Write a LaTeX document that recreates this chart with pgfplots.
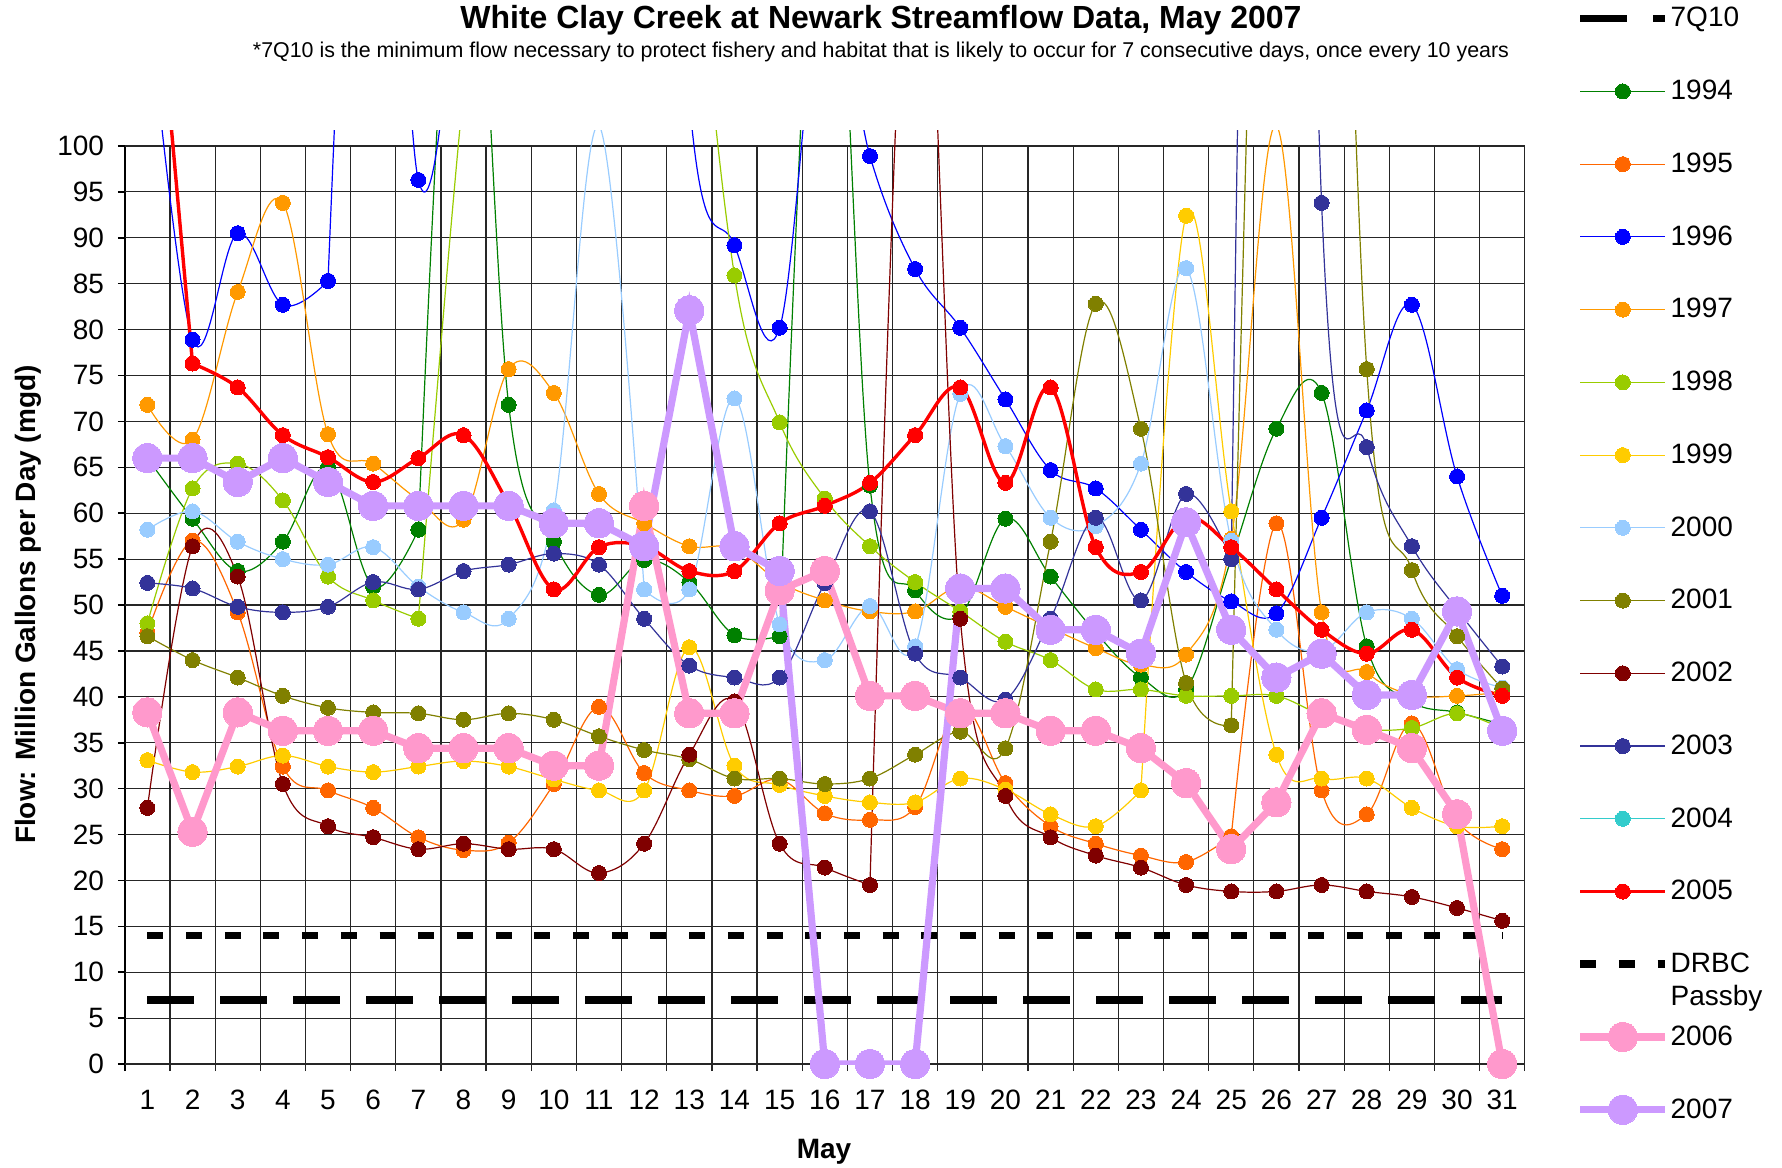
\documentclass[border=0pt]{standalone}
\usepackage{fontspec}
\setmainfont{Liberation Sans}
\usepackage{pgfplots}
\usepackage{pgfplotstable}
\pgfplotsset{compat=1.18}

\definecolor{c1994}{HTML}{008000}
\definecolor{c1995}{HTML}{FF6600}
\definecolor{c1996}{HTML}{0000FF}
\definecolor{c1997}{HTML}{FF9900}
\definecolor{c1998}{HTML}{99CC00}
\definecolor{c1999}{HTML}{FFCC00}
\definecolor{c2000}{HTML}{99CCFF}
\definecolor{c2001}{HTML}{808000}
\definecolor{c2002}{HTML}{800000}
\definecolor{c2003}{HTML}{333399}
\definecolor{c2004}{HTML}{33CCCC}
\definecolor{c2005}{HTML}{FF0000}
\definecolor{c2006}{HTML}{FF99CC}
\definecolor{c2007}{HTML}{CC99FF}

\pgfplotstableread{
d  a94   a95  a96  a97   a98  a99  a00   a01  a02  a03  a05  a06  a07
1  66    47   117  71.8  48   33.1 58.2  46.6 27.9 52.4 131  38.3 66.0
2  59.4  57   78.9 68.0  62.7 31.8 60.2  44.0 56.4 51.8 76.3 25.3 66.0
3  53.7  49.2 90.5 84.1  65.4 32.4 56.9  42.1 53.1 49.8 73.7 38.3 63.4
4  56.9  32.4 82.7 93.8  61.4 33.6 55.0  40.1 30.5 49.2 68.5 36.3 66.0
5  65    29.8 85.3 68.6  53.1 32.4 54.4  38.8 25.9 49.8 66.1 36.3 63.4
6  52.0  27.9 170  65.4  50.5 31.8 56.3  38.3 24.7 52.5 63.4 36.3 60.8
7  58.2  24.7 96.3 61.5  48.5 32.4 52    38.2 23.4 51.7 66.0 34.4 60.8
8  140   23.3 130  59.3  106  33.0 49.2  37.5 24.0 53.7 68.5 34.4 60.8
9  71.8  24.1 220  75.7  147  32.4 48.5  38.2 23.4 54.4 61   34.4 60.8
10 56.9  30.5 250  73.1  200  31.0 60.3  37.5 23.4 55.6 51.7 32.5 58.9
11 51.1  38.9 230  62.1  220  29.8 102.2 35.7 20.8 54.4 56.3 32.5 58.9
12 54.9  31.7 200  58.9  200  29.8 51.7  34.2 24.0 48.5 56.4 60.8 56.4
13 52.5  29.8 105  56.4  133  45.4 51.7  33.2 33.7 43.4 53.7 38.2 82.1
14 46.7  29.2 89.2 56.2  85.9 32.5 72.5  31.1 39.5 42.1 53.7 38.2 56.4
15 46.6  31   80.2 52.5  69.9 30.4 47.9  31.1 24.0 42.1 58.9 51.6 53.7
16 140   27.3 120  50.5  61.6 29.2 44.0  30.5 21.4 52.4 60.8 53.7 0
17 63    26.6 98.9 49.3  56.4 28.5 49.9  31.1 19.5 60.2 63.3 40.1 0
18 51.6  28   86.6 49.3  52.5 28.5 45.5  33.7 138  44.7 68.5 40.1 0
19 48.9  39   80.2 52    49.3 31.1 73    36.2 48.5 42.1 73.7 38.2 51.8
20 59.4  30.6 72.4 49.8  46.0 29.9 67.3  34.4 29.2 39.7 63.3 38.2 51.8
21 53.1  25.9 64.7 47.5  44.0 27.2 59.5  56.9 24.7 48.5 73.7 36.3 47.3
22 47    24.0 62.7 45.3  40.8 25.9 58.6  82.8 22.7 59.5 56.3 36.3 47.3
23 42.1  22.7 58.2 43.5  40.8 29.8 65.4  69.2 21.4 50.5 53.6 34.4 44.7
24 40.8  22.0 53.6 44.6  40.1 92.4 86.7  41.5 19.5 62.1 59.5 30.6 59.0
25 55    24.8 50.4 57.2  40.1 60.2 57    36.9 18.8 55.0 56.3 23.4 47.3
26 69.2  58.9 49.1 102.2 40.1 33.7 47.3  200  18.8 300  51.7 28.5 42.1
27 73.1  29.8 59.5 49.2  38   31.1 45    200  19.5 93.8 47.3 38.2 44.7
28 45.5  27.2 71.2 42.7  36.5 31.1 49.2  75.7 18.8 67.2 44.7 36.4 40.2
29 39.5  37.1 82.7 40.2  36.6 27.9 48.5  53.8 18.2 56.4 47.3 34.4 40.2
30 38.3  26.5 64.0 40.1  38.2 25.9 43.0  46.6 17.0 49.5 42.1 27.2 49.3
31 37    23.4 51.0 40.5  36.5 25.9 41    40.9 15.6 43.3 40.1 0    36.3
}\flowdata

\pgfplotsset{
  yr/.style={color=#1, line width=0.6pt, mark=*, mark size=3.75pt,
    mark options={solid, fill=#1, draw=#1, line width=0pt}},
  big/.style={color=#1, line width=3.6pt, sharp plot, mark=*, mark size=7.3pt,
    mark options={solid, fill=#1, draw=#1, line width=0pt}},
}
% one smoothed stretch of a series (first day, last day)
\newcommand{\piece}[4]{\addplot[#1, restrict x to domain=#2:#3, forget plot] table[x=d, y=#4] {\flowdata};}

\begin{document}
\begin{tikzpicture}
% overall picture size
\path (-62.4pt,-51.5pt) rectangle (828.6pt,532pt);
% vertical grid lines at day boundaries (with tick marks below the axis)
\foreach \k in {1,...,31} {
  \draw[black!85, line width=0.6pt] ({\k*22.58065pt},-3.5pt) -- ({\k*22.58065pt},459pt);
}
\draw[black, line width=0.8pt] (0pt,-3.5pt) -- (0pt,0pt);
\draw[black, line width=1.3pt] (0pt,459pt) -- (0pt,0pt) -- (700pt,0pt);

\begin{axis}[
  at={(0pt,0pt)}, anchor=south west,
  scale only axis, width=700pt, height=466.8pt,
  xmin=0.5, xmax=31.5, ymin=0, ymax=101.7,
  axis line style={draw=none},
  xtick={1,...,31}, xtick style={draw=none},
  ytick={0,5,...,100},
  tick align=outside, major tick length=3.5pt,
  ytick style={black, line width=0.8pt},
  tick pos=left,
  ymajorgrids,
  grid style={black!85, line width=0.6pt},
  tick label style={font=\fontsize{14}{16}\selectfont},
  /pgf/number format/assume math mode=true,
  yticklabel style={inner sep=0pt, xshift=-6.7pt},
  xticklabel style={inner sep=0pt, yshift=-9.5pt},
  legend style={at={(1.0369,1.1366)}, anchor=north west, draw=none, fill=none,
    inner sep=0pt, outer sep=0pt, row sep=20.57pt, column sep=0.7pt,
    font=\fontsize{14}{16}\selectfont,
    nodes={inner sep=0pt, minimum height=15.8pt}},
  legend cell align=left,
  legend image code/.code={\draw[mark repeat=2,mark phase=2,#1] plot coordinates {(0pt,0pt) (21.3pt,0pt) (42.6pt,0pt)};},
  every axis plot/.append style={smooth, tension=0.6},
]
\addplot[black, line width=3.8pt, sharp plot, no marks, dash pattern=on 23.5pt off 13pt] coordinates {(1,7) (31,7)};
\addlegendentry{7Q10}
% 1994
\addplot[yr=c1994, restrict x to domain=1:7] table[x=d, y=a94] {\flowdata};
\addlegendentry{1994}
\piece{yr=c1994}{7}{15}{a94}
\piece{yr=c1994}{15}{31}{a94}
% 1995
\addplot[yr=c1995, restrict x to domain=1:25] table[x=d, y=a95] {\flowdata};
\addlegendentry{1995}
\piece{yr=c1995}{25}{31}{a95}
% 1996
\addplot[yr=c1996, restrict x to domain=1:5] table[x=d, y=a96] {\flowdata};
\addlegendentry{1996}
\piece{yr=c1996}{5}{31}{a96}
% 1997
\addplot[yr=c1997] table[x=d, y=a97] {\flowdata};
\addlegendentry{1997}
% 1998
\addplot[yr=c1998, restrict x to domain=1:7] table[x=d, y=a98] {\flowdata};
\addlegendentry{1998}
\piece{yr=c1998}{7}{31}{a98}
% 1999
\addplot[yr=c1999, restrict x to domain=1:23] table[x=d, y=a99] {\flowdata};
\addlegendentry{1999}
\piece{yr=c1999}{23}{31}{a99}
% 2000
\addplot[yr=c2000, restrict x to domain=1:12] table[x=d, y=a00] {\flowdata};
\addlegendentry{2000}
\piece{yr=c2000}{12}{31}{a00}
% 2001
\addplot[yr=c2001, restrict x to domain=1:25] table[x=d, y=a01] {\flowdata};
\addlegendentry{2001}
\piece{yr=c2001}{25}{31}{a01}
% 2002
\addplot[yr=c2002, restrict x to domain=1:17] table[x=d, y=a02] {\flowdata};
\addlegendentry{2002}
\piece{yr=c2002}{17}{31}{a02}
% 2003
\addplot[yr=c2003, restrict x to domain=1:25] table[x=d, y=a03] {\flowdata};
\addlegendentry{2003}
\piece{yr=c2003}{25}{31}{a03}
% 2004 (no data shown)
\addlegendimage{yr=c2004}
\addlegendentry{2004}
% 2005
\addplot[yr=c2005, line width=1.7pt, restrict x to domain=1:2] table[x=d, y=a05] {\flowdata};
\addlegendentry{2005}
\piece{yr=c2005, line width=1.7pt}{2}{31}{a05}
% DRBC passby
\addplot[black, line width=3.8pt, sharp plot, no marks, dash pattern=on 8pt off 11.35pt] coordinates {(1,14) (31,14)};
\addlegendentry{\makebox[0pt][l]{\raisebox{-16.5pt}[0pt][0pt]{Passby}}DRBC}
\addplot[big=c2006] table[x=d, y=a06] {\flowdata};
\addlegendentry{2006}
\addplot[big=c2007] table[x=d, y=a07] {\flowdata};
\addlegendentry{2007}
\end{axis}

\node[font=\bfseries\fontsize{16}{19}\selectfont, inner sep=0pt] at (378.1pt,522pt) {White Clay Creek at Newark Streamflow Data, May 2007};
\node[font=\fontsize{10.7}{12.5}\selectfont, inner sep=0pt] at (378.1pt,506pt) {*7Q10 is the minimum flow necessary to protect fishery and habitat that is likely to occur for 7 consecutive days, once every 10 years};
\node[font=\bfseries\fontsize{14}{16}\selectfont, inner sep=0pt, rotate=90] at (-48.4pt,229.7pt) {Flow: Million Gallons per Day (mgd)};
\node[font=\bfseries\fontsize{14}{16}\selectfont, inner sep=0pt] at (349.6pt,-43.7pt) {May};
\end{tikzpicture}
\end{document}
